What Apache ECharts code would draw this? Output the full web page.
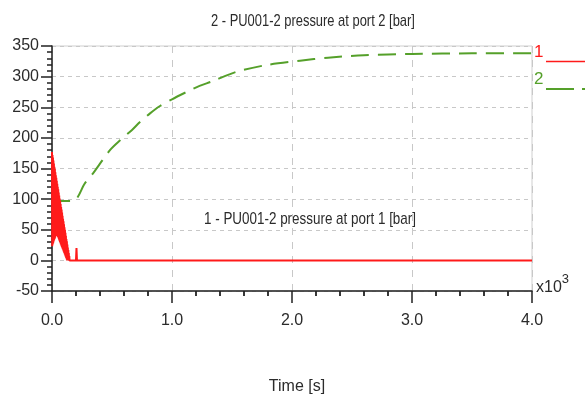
<!DOCTYPE html>
<html>
<head>
<meta charset="utf-8">
<script src="https://cdn.jsdelivr.net/npm/echarts@6/dist/echarts.min.js"></script>
<style>
  html, body { margin: 0; padding: 0; background: #fff; }
  #chart { width: 585px; height: 401px; }
</style>
</head>
<body>
<div id="chart"></div>
<script>
// Time [s] and pressure [bar] samples for the two ports of PU001-2
const port1Time = [0, 2, 4, 6, 8, 10, 12, 14, 16, 18, 20, 22, 24, 26, 28, 30, 32, 34, 36, 38,
  40, 42, 44, 46, 48, 50, 52, 54, 56, 58, 60, 62, 64, 66, 68, 70, 72, 74, 76, 78,
  80, 82, 84, 86, 88, 90, 92, 94, 96, 98, 100, 102, 104, 106, 108, 110, 112, 114, 116, 118,
  120, 122, 124, 126, 128, 130, 132, 134, 136, 138, 140, 142, 144, 146, 148, 150, 152,
  200, 204, 208, 4000];
const port1Pressure = [177, 23, 172, 26, 168, 28, 163, 31, 158, 33, 153, 35, 149, 37, 144, 39, 139, 42, 135, 43,
  130, 41, 125, 40, 120, 38, 116, 36, 111, 34, 106, 32, 101, 30, 97, 28, 92, 26, 87, 24,
  83, 22, 78, 20, 73, 18, 68, 16, 64, 14, 59, 12, 54, 10, 50, 8, 45, 6, 40, 4,
  35, 2, 31, 0, 26, 0, 21, 0, 17, 0, 12, 0, 7, 0, 3, 0, 0,
  0, 20, 0, 0];

const port2Time = [0, 175, 275, 342, 483, 567, 667, 733, 817, 900, 1000, 1122, 1230, 1331, 1539,
  1789, 2067, 2300, 2600, 3000, 3500, 4000];
const port2Pressure = [97, 97, 126, 142, 180, 196, 213, 226, 240, 252, 263, 275, 285, 292, 308,
  319, 326, 331, 335, 337, 338, 338];

const yTicks = [-50, 0, 50, 100, 150, 200, 250, 300, 350];
const xTickLabels = ['0.0', '1.0', '2.0', '3.0', '4.0'];

const title1 = '1 - PU001-2 pressure at port 1 [bar]';
const title2 = '2 - PU001-2 pressure at port 2 [bar]';

const FONT = '"Liberation Sans", Arial, sans-serif';
const TEXT = '#2b2b2b';
const RED = '#ff1a1a';
const GREEN = '#55a02a';

const zip = (xs, ys) => xs.map((x, i) => [x, ys[i]]);

// narrow caption text: a regular face squeezed horizontally
const caption = (text, x, y, size, fill, sx) => ({
  type: 'text', x: x, y: y, scaleX: sx, scaleY: 1,
  style: { text: text, fontFamily: FONT, fontSize: size, fill: fill, verticalAlign: 'middle', align: 'left' }
});

const chart = echarts.init(document.getElementById('chart'));
chart.setOption({
  animation: false,
  backgroundColor: '#ffffff',
  grid: {
    left: 52, right: 53, top: 46, bottom: 110,
    show: true, borderColor: '#cfcfcf', borderWidth: 1, backgroundColor: 'transparent'
  },
  xAxis: {
    type: 'value',
    min: 0, max: 4000, interval: 1000,
    name: 'Time [s]',
    nameLocation: 'middle',
    nameGap: 88,
    nameTextStyle: { fontFamily: FONT, fontSize: 16, color: TEXT, padding: [0, 0, 0, 10] },
    axisLine: { show: true, onZero: false, lineStyle: { color: '#222', width: 1.5 } },
    axisTick: { show: true, inside: false, length: 12, lineStyle: { color: '#222', width: 1.5 } },
    minorTick: { show: true, splitNumber: 5, length: 5, lineStyle: { color: '#222', width: 1.8 } },
    axisLabel: {
      fontFamily: FONT, fontSize: 16, color: TEXT, margin: 22,
      formatter: v => xTickLabels[Math.round(v / 1000)]
    },
    splitLine: { show: true, lineStyle: { color: '#c8c8c8', type: [7, 7], width: 1 } }
  },
  yAxis: {
    type: 'value',
    min: yTicks[0], max: yTicks[yTicks.length - 1], interval: 50,
    axisLine: { show: true, onZero: false, lineStyle: { color: '#222', width: 1.5 } },
    axisTick: { show: true, inside: false, length: 11, lineStyle: { color: '#222', width: 1.5 } },
    minorTick: { show: true, splitNumber: 5, length: 5, lineStyle: { color: '#222', width: 1.5 } },
    axisLabel: { fontFamily: FONT, fontSize: 16, color: TEXT, margin: 13 },
    splitLine: { show: true, lineStyle: { color: '#c8c8c8', type: [4, 4], width: 1 } }
  },
  series: [
    {
      name: title1,
      type: 'line',
      data: zip(port1Time, port1Pressure),
      symbol: 'none',
      lineStyle: { color: RED, width: 2 },
      z: 3
    },
    {
      name: title2,
      type: 'line',
      data: zip(port2Time, port2Pressure),
      symbol: 'none',
      smooth: 0.3,
      lineStyle: { color: GREEN, width: 2, type: [18, 9] },
      z: 2
    }
  ],
  graphic: [
    caption(title2, 211, 21, 17, TEXT, 0.76),
    caption(title1, 204, 219, 17, TEXT, 0.79),
    {
      type: 'text', left: 536, top: 273,
      style: {
        text: '{a|x10}{b|3}',
        rich: {
          a: { fontFamily: FONT, fontSize: 16, fill: TEXT, verticalAlign: 'bottom' },
          b: { fontFamily: FONT, fontSize: 13, fill: TEXT, verticalAlign: 'top', padding: [0, 0, 10, 0] }
        }
      }
    },
    // right-hand series keys
    {
      type: 'text', left: 534, top: 44,
      style: { text: '1', fontFamily: FONT, fontSize: 17, fill: RED }
    },
    {
      type: 'line', shape: { x1: 546, y1: 61.5, x2: 585, y2: 61.5 },
      style: { stroke: RED, lineWidth: 1.6 }
    },
    {
      type: 'text', left: 534, top: 71,
      style: { text: '2', fontFamily: FONT, fontSize: 17, fill: GREEN }
    },
    {
      type: 'line', shape: { x1: 546, y1: 89, x2: 585, y2: 89 },
      style: { stroke: GREEN, lineWidth: 2, lineDash: [28, 8] }
    }
  ]
});
</script>
</body>
</html>
